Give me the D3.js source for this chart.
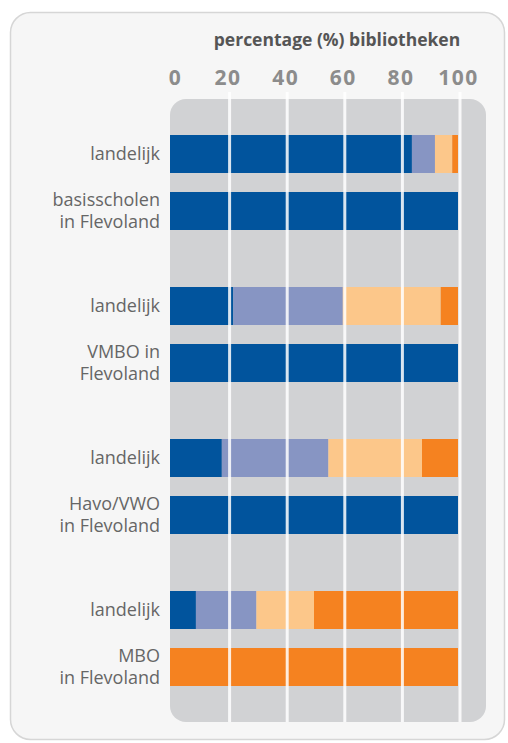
<!DOCTYPE html>
<html>
<head>
<meta charset="utf-8">
<script src="https://cdn.jsdelivr.net/npm/d3@7"></script>
<style>
  body { margin: 0; background: #ffffff; }
  text { font-family: "Open Sans", sans-serif; }
</style>
</head>
<body>
<div id="chart"></div>
<script>
// school types (groups), each with a national row and a Flevoland row
var groups = ["basisscholen", "VMBO", "Havo/VWO", "MBO"];
var rows = ["landelijk", "flevoland"];
var flevoLabels = [["basisscholen", "in Flevoland"], ["VMBO in", "Flevoland"], ["Havo/VWO", "in Flevoland"], ["MBO", "in Flevoland"]];

// segment names, stacked left to right
var segments = ["s1", "s2", "s3", "s4"];
var segColors = ["#01549d", "#8795c3", "#fcc78a", "#f58220"];

// percentages per segment
var landelijk = [
  [84, 8, 6, 2],
  [22, 38, 34, 6],
  [18, 37, 32.5, 12.5],
  [9, 21, 20, 50]
];
var flevoland = [
  [100, 0, 0, 0],
  [100, 0, 0, 0],
  [100, 0, 0, 0],
  [0, 0, 0, 100]
];

var tickValues = [0, 20, 40, 60, 80, 100];

var width = 508, height = 743;

var svg = d3.select("#chart").append("svg")
  .attr("width", width)
  .attr("height", height);

// card background
svg.append("rect")
  .attr("x", 10.5).attr("y", 12.5)
  .attr("width", 494).attr("height", 727)
  .attr("rx", 20)
  .style("fill", "#f6f6f6")
  .style("stroke", "#d6d6d6")
  .style("stroke-width", 1.5);

// scales
var x = d3.scaleLinear().domain([0, 100]).range([170, 458]);
var yGroup = d3.scaleBand().domain(groups).range([135, 743]);
var yRow = d3.scaleBand().domain(rows).range([0, 95]).paddingInner(1 / 3);

// grey plot panel
svg.append("rect")
  .attr("x", 170).attr("y", 99)
  .attr("width", 316).attr("height", 623)
  .attr("rx", 16)
  .style("fill", "#d1d2d4");

// build stacked table
var table = [];
groups.forEach(function(g, i) {
  var r1 = {group: g, row: "landelijk"}, r2 = {group: g, row: "flevoland"};
  segments.forEach(function(s, j) { r1[s] = landelijk[i][j]; r2[s] = flevoland[i][j]; });
  table.push(r1, r2);
});
var stacked = d3.stack().keys(segments)(table);

svg.append("g").selectAll("g")
  .data(stacked)
  .join("g")
    .style("fill", function(d, i) { return segColors[i]; })
  .selectAll("rect")
  .data(function(d) { return d; })
  .join("rect")
    .attr("x", function(d) { return x(d[0]); })
    .attr("y", function(d) { return yGroup(d.data.group) + yRow(d.data.row); })
    .attr("width", function(d) { return x(d[1]) - x(d[0]); })
    .attr("height", yRow.bandwidth());

// white gridlines drawn over the bars
var grid = svg.append("g")
  .attr("transform", "translate(1.5,92)")
  .call(d3.axisBottom(x).tickValues(tickValues.slice(1)).tickSize(630).tickFormat(""));
grid.select(".domain").remove();
grid.selectAll("line")
  .style("stroke", "#ffffff")
  .style("stroke-width", 3)
  .style("stroke-opacity", 0.85);

// top axis labels
var axis = svg.append("g")
  .attr("transform", "translate(0,85)")
  .call(d3.axisTop(x).tickValues(tickValues).tickSize(0).tickPadding(0));
axis.select(".domain").remove();
axis.selectAll("text")
  .attr("dx", function(d) { return d === 0 ? 5 : 0; })
  .style("font-family", "'Open Sans', sans-serif")
  .style("font-size", "21px")
  .style("letter-spacing", "1.5px")
  .style("font-weight", "bold")
  .style("fill", "#8c8c8c");

// axis title
svg.append("text")
  .attr("x", 337).attr("y", 46)
  .attr("text-anchor", "middle")
  .style("font-size", "17.5px")
  .style("font-weight", "bold")
  .style("fill", "#555555")
  .text("percentage (%) bibliotheken");

// row labels
var labels = svg.append("g")
  .attr("text-anchor", "end")
  .style("font-size", "18px")
  .style("fill", "#666666");

groups.forEach(function(g, i) {
  var y1 = yGroup(g) + yRow("landelijk") + yRow.bandwidth() / 2;
  labels.append("text")
    .attr("x", 160).attr("y", y1 + 6)
    .text("landelijk");
  var y2 = yGroup(g) + yRow("flevoland") + yRow.bandwidth() / 2;
  var t = labels.append("text").attr("x", 160).attr("y", y2 - 5);
  flevoLabels[i].forEach(function(line, k) {
    t.append("tspan").attr("x", 160).attr("dy", k === 0 ? 0 : 22).text(line);
  });
});
</script>
</body>
</html>
